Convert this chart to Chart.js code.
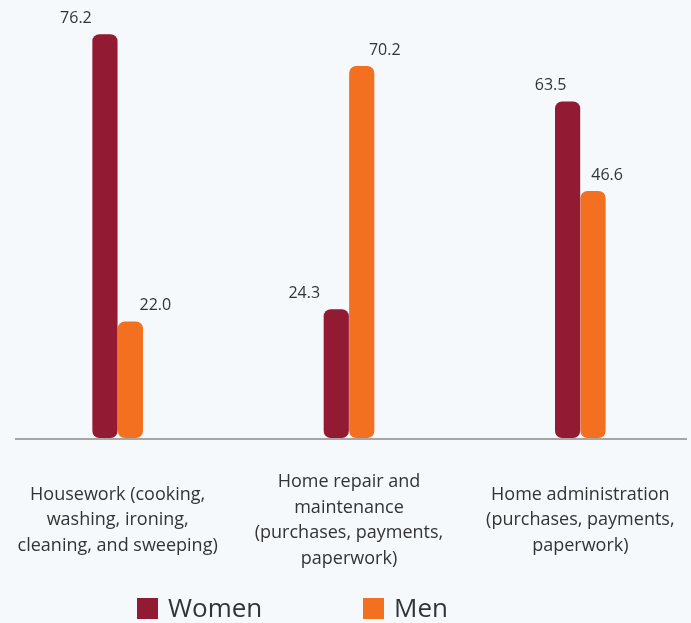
<!DOCTYPE html>
<html>
<head>
<meta charset="utf-8">
<script src="https://cdn.jsdelivr.net/npm/chart.js@4"></script>
<style>
  html, body { margin: 0; padding: 0; background: #F5F9FC; overflow: hidden; }
  #wrap { width: 696px; height: 640px; }
</style>
</head>
<body>
<div id="wrap"><canvas id="barChart"></canvas></div>
<script>
const categories = [
    ["Housework (cooking,", "washing, ironing,", "cleaning, and sweeping)"],
    ["Home repair and", "maintenance", "(purchases, payments,", "paperwork)"],
    ["Home administration", "(purchases, payments,", "paperwork)"]
];
const womenValues = [76.2, 24.3, 63.5];
const menValues = [22.0, 70.2, 46.6];

const WOMEN_COLOR = "#921A32";
const MEN_COLOR = "#F37021";
const FONT = "'Open Sans', sans-serif";

// value labels sit beside the bar tops (offset per bar, like the original)
const labelShift = [[-29, -32, -17], [25, 23, 14]];

const valueLabels = {
    id: "valueLabels",
    afterDatasetsDraw(chart) {
        const ctx = chart.ctx;
        ctx.save();
        ctx.font = "16px " + FONT;
        ctx.fillStyle = "#333333";
        ctx.textAlign = "center";
        ctx.textBaseline = "middle";
        chart.data.datasets.forEach((ds, di) => {
            chart.getDatasetMeta(di).data.forEach((bar, i) => {
                ctx.fillText(ds.data[i].toFixed(1), bar.x + labelShift[di][i], bar.y - 16);
            });
        });
        ctx.restore();
    }
};

// gray baseline + bottom legend
const extras = {
    id: "extras",
    beforeDatasetsDraw(chart) {
        const ctx = chart.ctx;
        const y = chart.scales.y.getPixelForValue(0);
        ctx.save();
        ctx.strokeStyle = "#A6A6A6";
        ctx.lineWidth = 2;
        ctx.beginPath();
        ctx.moveTo(15, y + 1);
        ctx.lineTo(687, y + 1);
        ctx.stroke();
        ctx.restore();
    },
    afterDraw(chart) {
        const ctx = chart.ctx;
        const xs = [137, 363];
        ctx.save();
        ctx.font = "26px " + FONT;
        ctx.textBaseline = "middle";
        chart.data.datasets.forEach((ds, i) => {
            ctx.fillStyle = ds.backgroundColor;
            ctx.fillRect(xs[i], 598, 21, 21);
            ctx.fillStyle = "#333333";
            ctx.fillText(ds.label, xs[i] + 31, 610);
        });
        ctx.restore();
    }
};

new Chart(document.getElementById("barChart"), {
    type: "bar",
    data: {
        labels: categories,
        datasets: [
            { label: "Women", data: womenValues, backgroundColor: WOMEN_COLOR },
            { label: "Men", data: menValues, backgroundColor: MEN_COLOR }
        ]
    },
    options: {
        responsive: true,
        maintainAspectRatio: false,
        animation: false,
        categoryPercentage: 0.22,
        barPercentage: 0.99,
        borderRadius: 7,
        borderSkipped: false,
        layout: { padding: { top: 14, left: 2, right: 0, bottom: 12 } },
        scales: {
            x: {
                grid: { display: false, drawTicks: false },
                border: { display: false },
                afterFit(scale) {
                    // labels may overhang the edges, like in the original
                    scale.paddingLeft = 0;
                    scale.paddingRight = 0;
                },
                ticks: {
                    color: "#333333",
                    font: { family: FONT, size: 18, lineHeight: "25.5px" },
                    padding: 44,
                    crossAlign: "center",
                    maxRotation: 0,
                    autoSkip: false
                }
            },
            y: {
                display: false,
                min: 0,
                max: 80
            }
        },
        plugins: {
            legend: { display: false },
            tooltip: { enabled: false }
        }
    },
    plugins: [valueLabels, extras]
});
</script>
</body>
</html>
